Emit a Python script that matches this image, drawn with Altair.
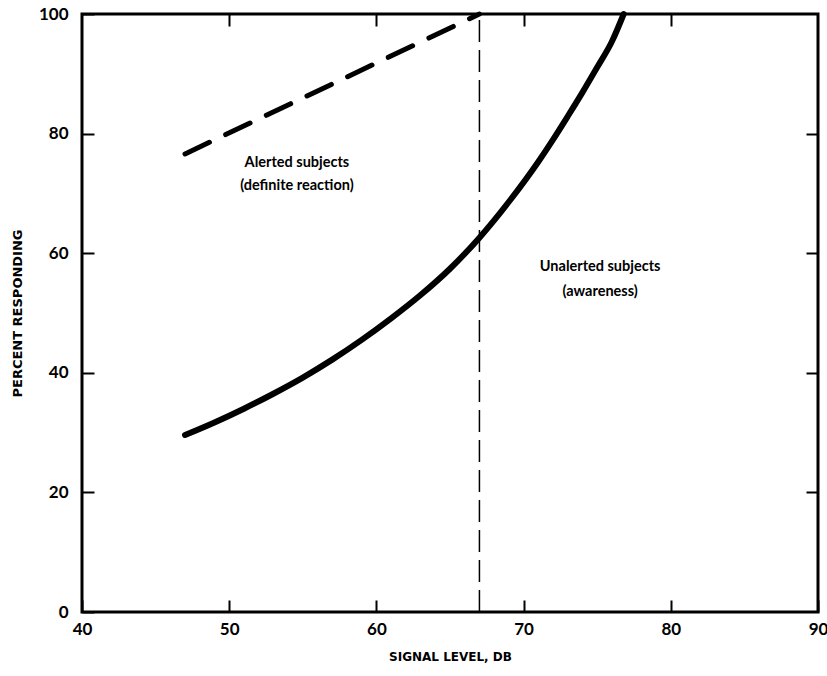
import altair as alt
import pandas as pd

# Unalerted subjects (awareness): solid response curve
unalerted_db = [47, 49, 51, 53, 55, 57, 59, 61, 63, 65, 67, 69, 71, 72, 73, 74, 75, 76, 76.8]
unalerted_pct = [29.6, 31.7, 34.0, 36.5, 39.2, 42.2, 45.5, 49.1, 53.0, 57.4, 62.6, 68.6, 75.3, 79.0, 82.9, 86.9, 91.1, 95.4, 100]

# Alerted subjects (definite reaction): dashed straight line
alerted_db = [47, 67]
alerted_pct = [76.6, 100]

# Reference level marked by the thin vertical dashed line
marker_db = [67]
marker_from = [0]
marker_to = [100]

# Curve annotations
note_text = ["Alerted subjects", "(definite reaction)", "Unalerted subjects", "(awareness)"]
note_db = [54.6, 54.6, 75.2, 75.2]
note_pct = [75.1, 71.2, 57.7, 53.5]

x_ticks = [40, 50, 60, 70, 80, 90]
y_ticks = [0, 20, 40, 60, 80, 100]
inner_x_ticks = [50, 60, 70, 80]
inner_y_ticks = [20, 40, 60, 80]

FONT = "Lato"
TITLE_FONT = "DejaVu Sans"

x_scale = alt.Scale(domain=[40, 90], nice=False, zero=False)
y_scale = alt.Scale(domain=[0, 100], nice=False, zero=False)

common_axis = dict(
    offset=-12, tickSize=12, tickWidth=2, tickColor="black", domain=False,
    grid=False, labelFlush=False, labelOverlap=False,
)

x_bottom = alt.Axis(
    orient="bottom", values=x_ticks, labelPadding=9, title="SIGNAL LEVEL, DB",
    titlePadding=14, titleFontSize=12, **common_axis,
)
y_left = alt.Axis(
    orient="left", values=y_ticks, labelPadding=14, title="PERCENT RESPONDING",
    titlePadding=14, titleFontSize=13, **common_axis,
)
x_top = alt.Axis(orient="top", values=inner_x_ticks, labels=False, title=None, **common_axis)
y_right = alt.Axis(orient="right", values=inner_y_ticks, labels=False, title=None, **common_axis)

unalerted_df = pd.DataFrame({"db": unalerted_db, "pct": unalerted_pct})
alerted_df = pd.DataFrame({"db": alerted_db, "pct": alerted_pct})
marker_df = pd.DataFrame({"db": marker_db, "lo": marker_from, "hi": marker_to})
notes_df = pd.DataFrame({"text": note_text, "db": note_db, "pct": note_pct})

unalerted = alt.Chart(unalerted_df).mark_line(
    color="black", strokeWidth=6, interpolate="monotone", strokeCap="round"
).encode(
    x=alt.X("db:Q", scale=x_scale, axis=x_bottom),
    y=alt.Y("pct:Q", scale=y_scale, axis=y_left),
)

alerted = alt.Chart(alerted_df).mark_line(
    color="black", strokeWidth=5, strokeDash=[27, 18], strokeCap="round"
).encode(
    x=alt.X("db:Q", scale=x_scale, axis=x_top),
    y=alt.Y("pct:Q", scale=y_scale, axis=y_right),
)

marker = alt.Chart(marker_df).mark_rule(
    color="black", strokeWidth=1.5, strokeDash=[22, 8]
).encode(
    x=alt.X("db:Q", scale=x_scale, axis=None),
    y=alt.Y("lo:Q", scale=y_scale, axis=None),
    y2="hi:Q",
)

notes = alt.Chart(notes_df).mark_text(
    font=FONT, fontSize=14.5, fontWeight="bold", color="black"
).encode(
    x=alt.X("db:Q", scale=x_scale, axis=None),
    y=alt.Y("pct:Q", scale=y_scale, axis=None),
    text="text:N",
)

chart = (
    alt.layer(unalerted, alerted, marker, notes)
    .resolve_axis(x="independent", y="independent")
    .properties(
        width=736,
        height=598,
        autosize=alt.AutoSizeParams(type="none"),
        padding={"left": 82, "top": 14, "right": 9, "bottom": 64},
        background="white",
    )
    .configure_view(stroke="black", strokeWidth=3)
    .configure_axis(
        labelFont=FONT, labelFontSize=17, labelFontWeight="bold", labelColor="black",
        titleFont=TITLE_FONT, titleFontWeight="bold", titleColor="black",
    )
)

chart.save("out.html", embed_options={"renderer": "svg", "actions": False})
